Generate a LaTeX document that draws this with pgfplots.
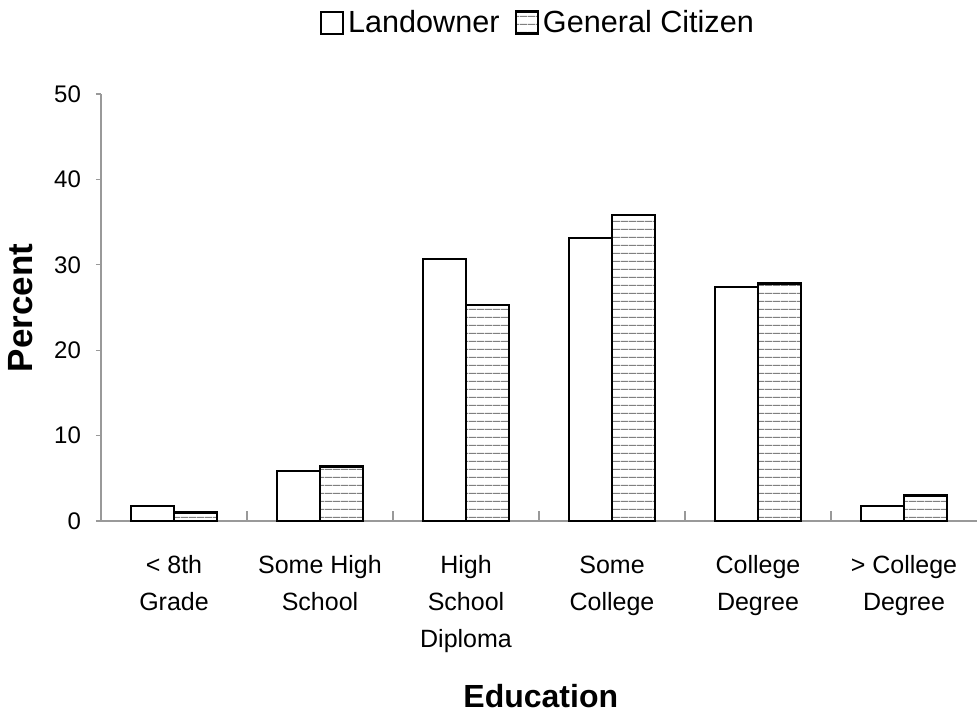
\documentclass[border=0pt]{standalone}
\usepackage{fontspec}
\setmainfont{Liberation Sans}
\usepackage{pgfplots}
\pgfplotsset{compat=1.18}
\usetikzlibrary{patterns.meta}

\definecolor{axisgray}{gray}{0.6}
\definecolor{hatchgray}{gray}{0.5}

% Square legend swatch for both series
\pgfplotsset{sqlegend/.style={legend image code/.code={%
  \draw[##1] (0pt,-5.5pt) rectangle (11pt,5.5pt);}}}

\begin{document}
\begin{tikzpicture}
\useasboundingbox (-50.5pt,-98pt) rectangle (438pt,260.5pt);
\begin{axis}[
  at={(0pt,0pt)}, anchor=south west,
  scale only axis,
  width=438pt, height=213.5pt,
  ybar=0pt, bar width=21.5pt,
  xmin=-0.5, xmax=5.5,
  ymin=0, ymax=50,
  ytick={0,10,...,50},
  xtick={0,...,5},
  xticklabels={{\strut< 8th\\\strut Grade},{\strut Some High\\\strut School},{\strut High\\\strut School\\\strut Diploma},{\strut Some\\\strut College},{\strut College\\\strut Degree},{\strut> College\\\strut Degree}},
  minor xtick={0.5,1.5,2.5,3.5,4.5},
  axis x line*=bottom, axis y line*=left,
  axis line style={axisgray, line width=0.7pt},
  tick align=outside,
  major tick length=2.5pt,
  minor tick length=5pt,
  major x tick style={draw=none},
  minor x tick style={axisgray, line width=0.6pt, yshift=5pt},
  major y tick style={axisgray, line width=0.6pt},
  /pgf/number format/assume math mode=true,
  yticklabel style={font=\fontsize{12}{14}\selectfont, xshift=-4pt},
  xticklabel style={align=center, font=\fontsize{12.5}{18.5}\selectfont, anchor=north, yshift=-7.5pt},
  xlabel={Education},
  xlabel style={at={(axis description cs:0.502,-0.41)}, anchor=center, font=\bfseries\fontsize{16}{19}\selectfont},
  ylabel={Percent},
  ylabel style={at={(axis description cs:-0.0913,0.499)}, anchor=center, font=\bfseries\fontsize{17.5}{20}\selectfont},
  legend style={at={(axis description cs:0.5,1.167)}, anchor=center, draw=none, fill=none,
    legend columns=-1, font=\fontsize{15.3}{18}\selectfont,
    /tikz/every even column/.append style={column sep=5.5pt}},
]
\addplot[draw=black, fill=white, line width=1pt, sqlegend] coordinates {
  (0,1.8) (1,5.8) (2,30.7) (3,33.1) (4,27.4) (5,1.8)};
\addplot[draw=black, line width=1.2pt,
  pattern={Lines[angle=0, distance=3.85pt, line width=0.5pt]}, pattern color=hatchgray,
  sqlegend] coordinates {
  (0,1.0) (1,6.4) (2,25.3) (3,35.8) (4,27.8) (5,3.0)};
\legend{Landowner, General Citizen}
\end{axis}
\end{tikzpicture}
\end{document}
